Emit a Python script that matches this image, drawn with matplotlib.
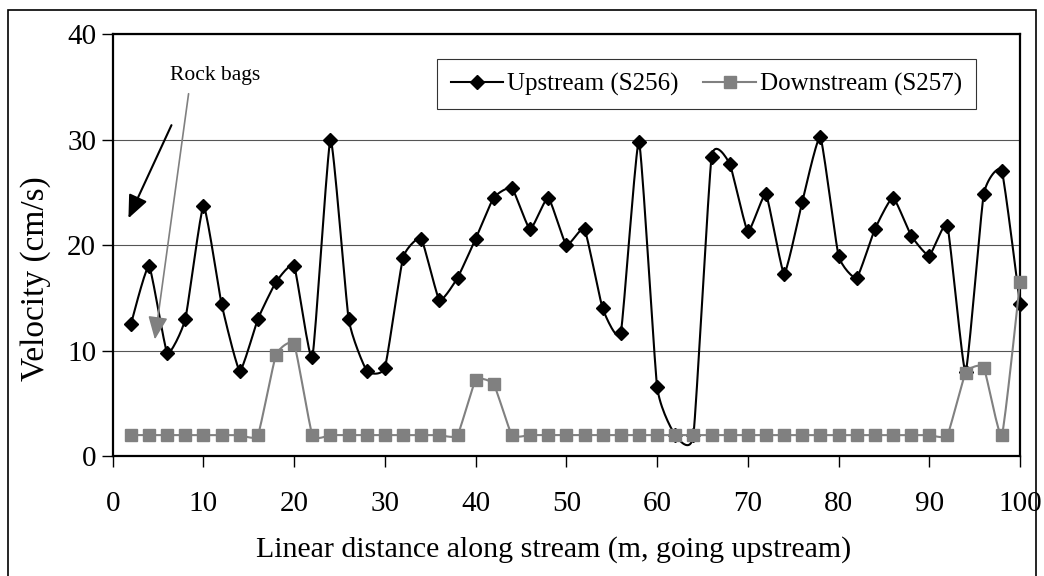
import matplotlib.pyplot as plt
from matplotlib.patches import Rectangle
import numpy as np

plt.rcParams['font.family'] = ['Liberation Serif', 'DejaVu Serif']

distance = list(range(2, 101, 2))
upstream = [12.5, 18.0, 9.8, 13.0, 23.7, 14.4, 8.1, 13.0, 16.5, 18.0,
            9.4, 30.0, 13.0, 8.1, 8.4, 18.8, 20.6, 14.8, 16.9, 20.6,
            24.5, 25.4, 21.5, 24.5, 20.0, 21.5, 14.0, 11.7, 29.8, 6.6,
            2.0, 2.0, 28.3, 27.7, 21.3, 24.8, 17.3, 24.1, 30.2, 19.0,
            16.9, 21.5, 24.5, 20.9, 19.0, 21.8, 8.0, 24.8, 27.0, 14.4]
downstream = [2, 2, 2, 2, 2, 2, 2, 2, 9.6, 10.6,
              2, 2, 2, 2, 2, 2, 2, 2, 2, 7.2,
              6.8, 2, 2, 2, 2, 2, 2, 2, 2, 2,
              2, 2, 2, 2, 2, 2, 2, 2, 2, 2,
              2, 2, 2, 2, 2, 2, 7.9, 8.4, 2, 16.5]


def smooth(x, y, n=16, s=0.45):
    # cardinal spline, close to a spreadsheet "smoothed line"
    x = np.asarray(x, float)
    y = np.asarray(y, float)
    px = np.concatenate([[x[0]], x, [x[-1]]])
    py = np.concatenate([[y[0]], y, [y[-1]]])
    t = np.linspace(0, 1, n, endpoint=False)
    h00 = 2 * t**3 - 3 * t**2 + 1
    h10 = t**3 - 2 * t**2 + t
    h01 = -2 * t**3 + 3 * t**2
    h11 = t**3 - t**2
    xs, ys = [], []
    for i in range(1, len(px) - 2):
        for p, out in ((px, xs), (py, ys)):
            m1 = s * (p[i + 1] - p[i - 1]) / 2
            m2 = s * (p[i + 2] - p[i]) / 2
            out.extend(h00 * p[i] + h10 * m1 + h01 * p[i + 1] + h11 * m2)
    xs.append(x[-1])
    ys.append(y[-1])
    return xs, ys


fig = plt.figure(figsize=(10.44, 5.76), dpi=100)
ax = fig.add_axes([0.108, 0.208, 0.869, 0.733])

grey = '#808080'
ax.plot(*smooth(distance, upstream), color='black', lw=1.5, zorder=2)
ax.plot(distance, upstream, ls='none', marker='D', ms=7.5, color='black',
        zorder=3, clip_on=False)
ax.plot(*smooth(distance, downstream), color=grey, lw=1.5, zorder=4)
ax.plot(distance, downstream, ls='none', marker='s', ms=9, color=grey,
        zorder=5, clip_on=False)

# legend handles
h1, = ax.plot([], [], color='black', lw=1.5, marker='D', ms=7)
h2, = ax.plot([], [], color=grey, lw=1.5, marker='s', ms=8.5)
leg = ax.legend([h1, h2], ['Upstream (S256)', 'Downstream (S257)'], ncol=2,
                loc='upper right', bbox_to_anchor=(0.951, 0.941), fontsize=18,
                frameon=True, fancybox=False, edgecolor='black',
                handlelength=2.1, handletextpad=0.15, columnspacing=1.0,
                borderpad=0.55, borderaxespad=0)
leg.get_frame().set_linewidth(0.8)

ax.set_xlim(0, 100)
ax.set_ylim(0, 40)
ax.set_xticks(range(0, 101, 10))
ax.set_yticks(range(0, 41, 10))
ax.yaxis.grid(True, color='#555555', lw=0.8)
ax.set_axisbelow(True)
ax.tick_params(axis='both', labelsize=21, direction='out', length=8, width=1)
ax.tick_params(axis='x', pad=17)
ax.tick_params(axis='y', pad=4)
for s in ax.spines.values():
    s.set_linewidth(1.6)
ax.set_xlabel('Linear distance along stream (m, going upstream)', fontsize=21.5,
              va='top')
ax.xaxis.set_label_coords(0.486, -0.188)
ax.set_ylabel('Velocity (cm/s)', fontsize=24)
ax.yaxis.set_label_coords(-0.068, 0.42)

ax.text(11.3, 36.1, 'Rock bags', fontsize=15.5, ha='center', va='center')
ax.annotate('', xy=(1.6, 22.3), xytext=(6.6, 31.6),
            arrowprops=dict(arrowstyle='-|>,head_length=1.4,head_width=0.6',
                            color='black', lw=1.5))
ax.annotate('', xy=(4.6, 10.8), xytext=(8.4, 34.6),
            arrowprops=dict(arrowstyle='-|>,head_length=1.4,head_width=0.6',
                            color=grey, lw=1.2))

fig.patches.append(Rectangle((0.008, -0.01), 0.984, 0.993, transform=fig.transFigure,
                             fill=False, edgecolor='black', lw=1.2))

fig.savefig('out.png', dpi=100)
